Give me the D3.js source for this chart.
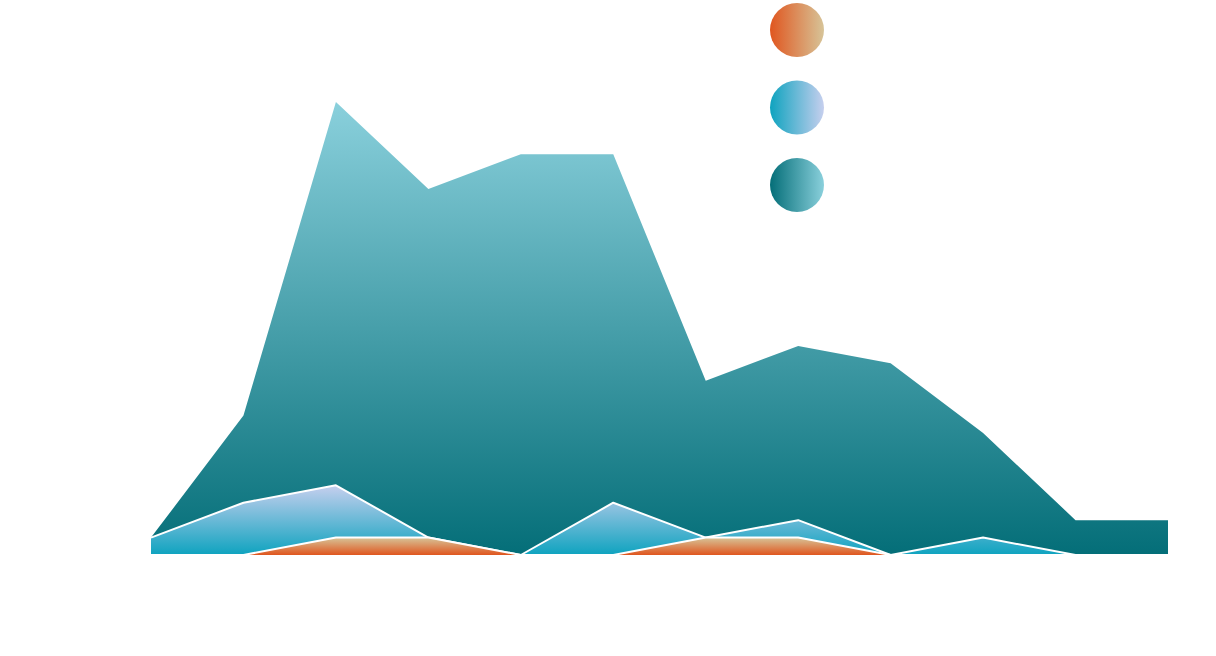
<!DOCTYPE html>
<html>
<head>
<meta charset="utf-8">
<script src="https://cdn.jsdelivr.net/npm/d3@7"></script>
<style>
  body { margin: 0; background: #fff; }
  svg { display: block; }
</style>
</head>
<body>
<div id="chart"></div>
<script>
var width = 1216;
var height = 656;

// 12 periods along the x axis (no labels shown in the picture)
var categories = [1, 2, 3, 4, 5, 6, 7, 8, 9, 10, 11, 12];

// series values
var seriesTeal = [1, 8, 26, 21, 23, 23, 10, 12, 11, 7, 2, 2];
var seriesBlue = [1, 3, 4, 1, 0, 3, 1, 2, 0, 1, 0, 0];
var seriesOrange = [0, 0, 1, 1, 0, 0, 1, 1, 0, 0, 0, 0];

var seriesNames = ["orange", "blue", "teal"];
// top / bottom colours of each gradient
var gradColors = {
  orange: ["#d7c498", "#e0561f"],
  blue: ["#c6cfee", "#0ea3bf"],
  teal: ["#8ad0dc", "#046e78"]
};

var svg = d3.select("#chart")
  .append("svg")
  .attr("width", width)
  .attr("height", height);

var defs = svg.append("defs");

seriesNames.forEach(function(name) {
  // vertical gradient for the area
  var g = defs.append("linearGradient")
    .attr("id", "area-" + name)
    .attr("x1", 0).attr("y1", 0)
    .attr("x2", 0).attr("y2", 1);
  g.append("stop").attr("offset", "0%").attr("stop-color", gradColors[name][0]);
  g.append("stop").attr("offset", "100%").attr("stop-color", gradColors[name][1]);

  // horizontal gradient for the legend dot
  var h = defs.append("linearGradient")
    .attr("id", "dot-" + name)
    .attr("x1", 0).attr("y1", 0)
    .attr("x2", 1).attr("y2", 0);
  h.append("stop").attr("offset", "0%").attr("stop-color", gradColors[name][1]);
  h.append("stop").attr("offset", "100%").attr("stop-color", gradColors[name][0]);
});

var x = d3.scalePoint()
  .domain(categories)
  .range([151, 1168]);

var y = d3.scaleLinear()
  .domain([0, 26])
  .range([555, 102]);

var area = d3.area()
  .x(function(d, i) { return x(categories[i]); })
  .y0(y(0))
  .y1(function(d) { return y(d); });

var line = d3.line()
  .x(function(d, i) { return x(categories[i]); })
  .y(function(d) { return y(d); });

// teal is drawn first (at the back), then blue, then orange
var layers = [
  { name: "teal", values: seriesTeal, stroke: false },
  { name: "blue", values: seriesBlue, stroke: true },
  { name: "orange", values: seriesOrange, stroke: true }
];

var layer = svg.selectAll(".layer")
  .data(layers)
  .enter().append("g")
  .attr("class", "layer");

layer.append("path")
  .attr("d", function(d) { return area(d.values); })
  .style("fill", function(d) { return "url(#area-" + d.name + ")"; });

layer.filter(function(d) { return d.stroke; })
  .append("path")
  .attr("d", function(d) { return line(d.values); })
  .style("fill", "none")
  .style("stroke", "#fff")
  .style("stroke-width", 2)
  .style("stroke-linejoin", "round");

// legend dots, no text
var legend = svg.selectAll(".legend-dot")
  .data(seriesNames)
  .enter().append("circle")
  .attr("class", "legend-dot")
  .attr("cx", 797)
  .attr("cy", function(d, i) { return 30 + i * 77.5; })
  .attr("r", 27)
  .style("fill", function(d) { return "url(#dot-" + d + ")"; });
</script>
</body>
</html>
